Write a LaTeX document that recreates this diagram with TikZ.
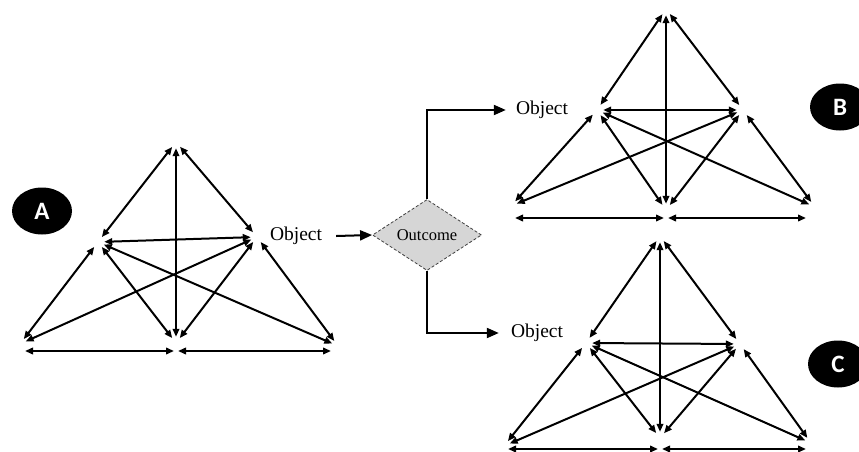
\documentclass[tikz,border=0pt]{standalone}
\usepackage{fontspec}
\setmainfont{Liberation Serif}
\newfontfamily\lblfont{Carlito}
\usetikzlibrary{arrows.meta,shapes.geometric}
\tikzset{
  vx/.style={circle,minimum size=12pt,inner sep=0pt,draw=none},
  dbl/.style={line width=2pt,{Triangle[length=8pt,width=6.5pt]}-{Triangle[length=8pt,width=6.5pt]}},
  flow/.style={line width=2pt,-{Triangle[length=12pt,width=10pt]}},
  obj/.style={inner sep=2pt,font=\fontsize{19.5}{22}\selectfont},
  dia/.style={diamond,aspect=1.5,inner sep=0pt,minimum width=109pt,minimum height=71pt,
    fill=black!16,draw=black!75,line width=0.8pt,dash pattern=on 3pt off 2pt,
    font=\fontsize{16.5}{19}\selectfont},
  lbl/.style={ellipse,fill=black,text=white,minimum width=60pt,minimum height=47pt,inner sep=0pt,
    font=\lblfont\bfseries\fontsize{25}{28}\selectfont}
}
\newcommand\drawtri[9]{%
  \node[vx] (#1T) at (#2) {};
  \node[vx] (#1L) at (#3) {};
  \node[vx] (#1R) at (#4) {};
  \node[vx] (#1BL) at (#5) {};
  \node[vx] (#1BR) at (#6) {};
  \node[vx] (#1M) at (#7) {};
  \coordinate (#1bl) at (#8);
  \coordinate (#1br) at (#9);
  \coordinate (#1bm) at (#1M |- #1bl);
  \foreach \p/\q in {T/L,T/R,T/M,L/R,L/BL,R/BR,L/M,R/M,L/BR,R/BL}
    \draw[dbl] (#1\p) -- (#1\q);
  \draw[dbl] (#1bl) -- ([xshift=-2pt]#1bm);
  \draw[dbl] ([xshift=2pt]#1bm) -- (#1br);
}
\begin{document}
\begin{tikzpicture}[x=1pt,y=-1pt]
\clip (0,0) rectangle (859,452);
\fill[white] (0,0) rectangle (859,452);
% triangle A
\drawtri{A}{176,142}{98,242}{257,237}{20,344}{338,346}{176,343}{25,351}{331,351}
% triangle B
\drawtri{B}{666,9}{597,110}{743,110}{511,206}{815,207}{666,210}{515,218}{806,218}
% triangle C
\drawtri{C}{660,236}{586,343}{740,344}{504,446}{811,443}{660,438}{508,449}{806,449}
% flow
\node[obj] (objA) at (296,236) {Object};
\node[dia] (dia) at (427,235) {Outcome};
\node[obj] (objB) at (542,110) {Object};
\node[obj] (objC) at (537,333) {Object};
\draw[flow] ([xshift=12pt]objA.east) -- (dia.west);
\draw[flow] (dia.north) |- ([xshift=-8pt]objB.west);
\draw[flow] (dia.south) |- ([xshift=-10pt]objC.west);
% letters
\node[lbl] (labA) at (42,211) {A};
\node[lbl] (labB) at (840,107) {B};
\node[lbl] (labC) at (838,364) {C};
\end{tikzpicture}
\end{document}
